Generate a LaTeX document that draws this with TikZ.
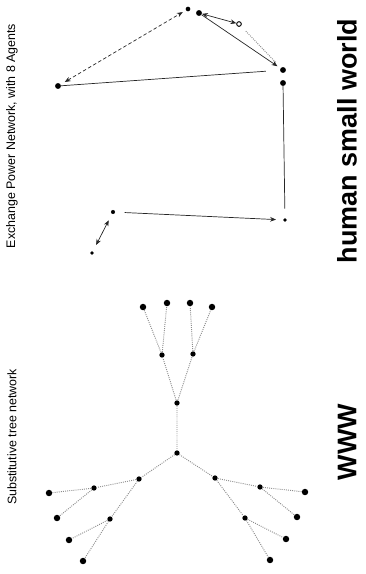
\documentclass[tikz,border=0pt]{standalone}
\usepackage{fontspec}
\setmainfont{Liberation Sans}
\usetikzlibrary{arrows.meta}
\tikzset{hswdot/.style={circle,fill=black,inner sep=0pt,minimum size=4pt},hswring/.style={circle,draw=black,thick,fill=white,inner sep=0pt,minimum size=4pt},wwwdot/.style={circle,fill=black,inner sep=0pt,minimum size=5.5pt},wwwhub/.style={wwwdot,minimum size=4.5pt},hswedge/.style={draw=black!85,semithick},hswarr/.style={hswedge,-{Stealth[length=5pt,width=4pt]}},hswboth/.style={hswedge,{Stealth[length=5pt,width=4pt]}-{Stealth[length=5pt,width=4pt]}},wwwedge/.style={draw=black!45,densely dotted,thick},bigtitle/.style={font=\bfseries\fontsize{23}{23}\selectfont,rotate=90},smallcap/.style={font=\fontsize{10.6}{11}\selectfont,rotate=90}}

\begin{document}
\begin{tikzpicture}[x=0.03cm,y=-0.03cm]
\useasboundingbox (0,0) rectangle (366,574);
% human small world
\node[hswdot] (a) at (188,9) {};
\node[hswdot,minimum size=5pt] (b) at (199,13) {};
\node[hswring] (c) at (239,24) {};
\node[hswdot,minimum size=5pt] (d) at (283,70) {};
\node[hswdot,minimum size=5pt] (e) at (283,83) {};
\node[hswdot,minimum size=3pt] (f) at (285,220) {};
\node[hswdot,minimum size=3.5pt] (g) at (113,212) {};
\node[hswdot,minimum size=3pt] (h) at (92,253) {};
\node[hswdot,minimum size=5pt] (i) at (58,86) {};
\draw[hswboth,densely dashed,shorten <=4pt,shorten >=3pt] (i)--(a);
\draw[hswedge,shorten >=12pt] (i)--(d);
\draw[hswboth] (b)--(c);
\draw[wwwedge,shorten <=6pt,shorten >=6pt] (c)--(d);
\draw[hswarr,shorten >=3pt] (b)--(d);
\draw[hswedge,shorten >=8pt] (e)--(f);
\draw[hswarr,shorten <=8pt,shorten >=6pt] (g)--(f);
\draw[hswboth,shorten <=6pt,shorten >=6pt] (g)--(h);
\node[smallcap] (hswcap) at (12,136) {Exchange Power Network, with 8 Agents};
\node[bigtitle] (hswtitle) at (347,141) {human small world};
% WWW tree
\node[wwwhub] (r) at (177,403) {};
\node[wwwhub] (u1) at (162,355) {};
\node[wwwhub] (u2) at (193,354) {};
\node[wwwdot] (u11) at (143,307) {};
\node[wwwdot] (u12) at (167,303) {};
\node[wwwdot] (u21) at (190,303) {};
\node[wwwdot] (u22) at (212,307) {};
\node[wwwhub] (s) at (177,453) {};
\node[wwwhub] (p1) at (139,479) {};
\node[wwwhub] (p2) at (215,478) {};
\node[wwwhub] (q1) at (94,488) {};
\node[wwwhub] (q2) at (110,519) {};
\node[wwwhub] (q3) at (260,487) {};
\node[wwwhub] (q4) at (245,518) {};
\node[wwwdot] (t1) at (49,493) {};
\node[wwwdot] (t2) at (57,518) {};
\node[wwwdot] (t3) at (69,540) {};
\node[wwwdot] (t4) at (83,561) {};
\node[wwwdot] (t5) at (305,492) {};
\node[wwwdot] (t6) at (297,517) {};
\node[wwwdot] (t7) at (286,539) {};
\node[wwwdot] (t8) at (270,560) {};
\draw[wwwedge] (r)--(u1) (r)--(u2) (u1)--(u11) (u1)--(u12) (u2)--(u21) (u2)--(u22);
\draw[wwwedge] (r)--(s) (s)--(p1) (s)--(p2);
\draw[wwwedge] (p1)--(q1) (p1)--(q2) (p2)--(q3) (p2)--(q4);
\draw[wwwedge] (q1)--(t1) (q1)--(t2) (q2)--(t3) (q2)--(t4);
\draw[wwwedge] (q3)--(t5) (q3)--(t6) (q4)--(t7) (q4)--(t8);
\node[smallcap] (wwwcap) at (12,437) {Substitutive tree network};
\node[bigtitle] (wwwtitle) at (347,442) {WWW};
\end{tikzpicture}
\end{document}
